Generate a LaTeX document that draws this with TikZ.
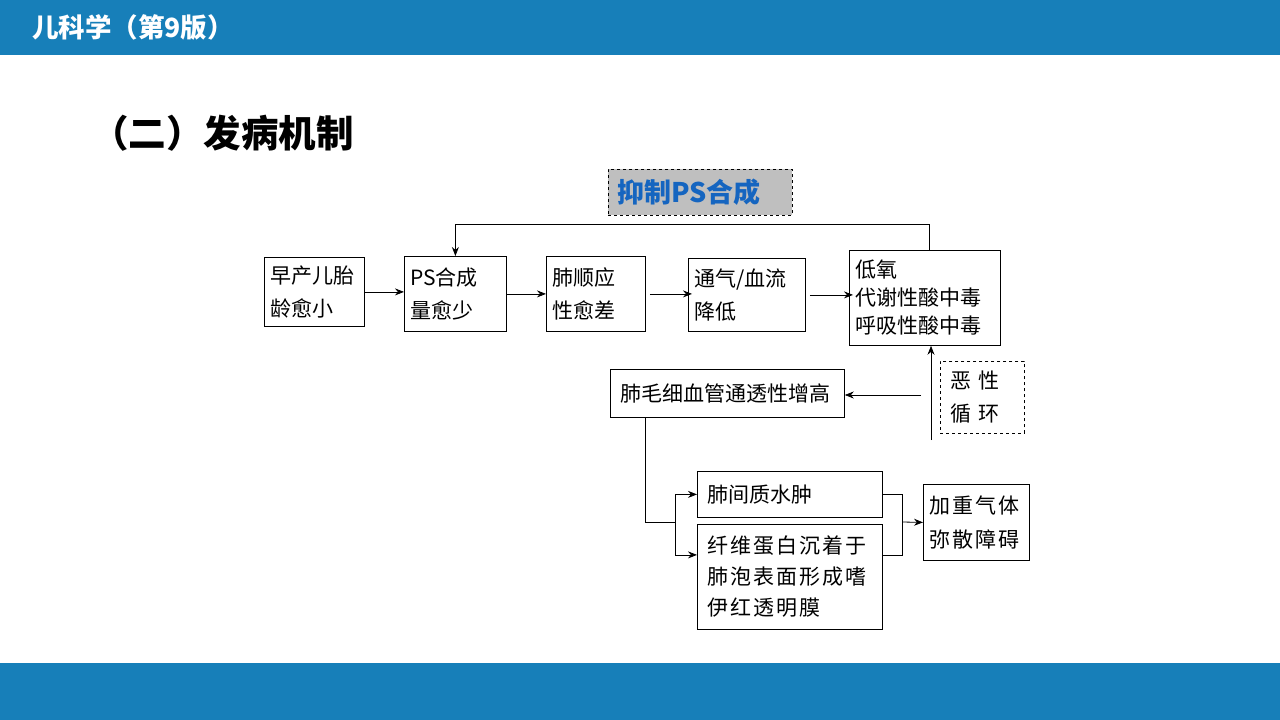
\documentclass[tikz,border=0pt]{standalone}
\usepackage{fontspec}
\setmainfont{Noto Sans CJK SC}
\newfontfamily\spaced[LetterSpace=10]{Noto Sans CJK SC}
\usetikzlibrary{arrows.meta}
\definecolor{barblue}{RGB}{23,127,185}
\definecolor{psblue}{RGB}{21,101,192}
\definecolor{psgray}{RGB}{191,191,191}

\begin{document}
\begin{tikzpicture}[x=1pt,y=-1pt,
  every node/.style = {font=\fontsize{21}{33}\selectfont},
  box/.style = {draw, line width=0.8pt, anchor=north west,
    align=left, inner xsep=6pt, inner ysep=0pt},
  arr/.style = {line width=0.8pt, -{Stealth[length=9pt,width=7pt]}},
  link/.style = {line width=0.8pt}]
  \useasboundingbox (0,0) rectangle (1280,720);
  \fill[barblue] (0,0) rectangle (1280,55);
  \fill[barblue] (0,663) rectangle (1280,720);
  \node[anchor=west, inner sep=0pt, text=white, font=\fontsize{26.5}{30}\selectfont\bfseries]
    (course) at (32,27) {儿科学（第9版）};
  \node[anchor=west, inner sep=0pt, font=\fontsize{37.5}{40}\selectfont\bfseries]
    (heading) at (91,133) {（二）发病机制};

  \node[box, dashed, fill=psgray, minimum width=184pt, minimum height=46pt, text width=166pt, inner xsep=9pt,
    text=psblue, font=\fontsize{27}{30}\selectfont\bfseries] (inhibit) at (608,169) {抑制PS合成};
  \node[box, minimum width=100pt, minimum height=69pt, text width=88pt] (early) at (264,257) {早产儿胎\\龄愈小};
  \node[box, minimum width=102pt, minimum height=75pt, text width=90pt] (pslow) at (404,256) {PS合成\\量愈少};
  \node[box, minimum width=99pt, minimum height=75pt, text width=87pt] (comply) at (546,256) {肺顺应\\性愈差};
  \node[box, minimum width=117pt, minimum height=73pt, text width=105pt] (vent) at (688,258) {通气/血流\\降低};
  \node[box, minimum width=151pt, minimum height=95pt, text width=139pt,
    font=\fontsize{21}{28}\selectfont] (hypox) at (849,250) {低氧\\代谢性酸中毒\\呼吸性酸中毒};
  \node[box, minimum width=234pt, minimum height=48pt, text width=214pt, inner xsep=10pt] (capil) at (610,369) {肺毛细血管通透性增高};
  \node[box, dashed, minimum width=84pt, minimum height=72pt, text width=64pt, inner xsep=10pt]
    (vicious) at (940,361) {恶\hspace{7pt}性\\循\hspace{7pt}环};
  \node[box, minimum width=185pt, minimum height=46pt, text width=165pt, inner xsep=10pt] (edema) at (697,471) {肺间质水肿};
  \node[box, minimum width=185pt, minimum height=105pt, text width=165pt, inner xsep=10pt,
    font=\fontsize{21}{31}\spaced] (fibrin) at (697,524) {纤维蛋白沉着于\\肺泡表面形成嗜\\伊红透明膜};
  \node[box, minimum width=106pt, minimum height=76pt, text width=94pt,
    font=\fontsize{21}{34}\spaced] (diffuse) at (923,484) {加重气体\\弥散障碍};

  \draw[arr] (early.east) -- (early.east -| pslow.west);
  \draw[arr] (pslow.east) -- (pslow.east -| comply.west);
  \draw[arr] ([xshift=4pt]comply.east) -- ([xshift=4pt]comply.east -| vent.west);
  \draw[arr] ([xshift=4pt]vent.east) -- ([xshift=4pt]vent.east -| hypox.west);
  \draw[arr] ([xshift=4.5pt]hypox.north) -- ++(0,-26) -| (pslow.north);

  \coordinate (loopfoot) at (931,440);
  \coordinate (loopmid) at (921,395);
  \draw[arr] (loopfoot) -- (loopfoot |- hypox.south);
  \draw[arr] (loopmid) -- (loopmid -| capil.east);

  \coordinate (split) at (675,522);
  \coordinate (join) at (902,522);
  \draw[link] ([xshift=-82pt]capil.south) |- (split);
  \draw[arr] (split) |- (edema.west);
  \draw[arr] (split) |- ([yshift=22pt]fibrin.west);
  \draw[link] (edema.east) -| (join);
  \draw[link] ([yshift=22pt]fibrin.east) -| (join);
  \draw[arr] (join) -- (diffuse.west);
\end{tikzpicture}
\end{document}
